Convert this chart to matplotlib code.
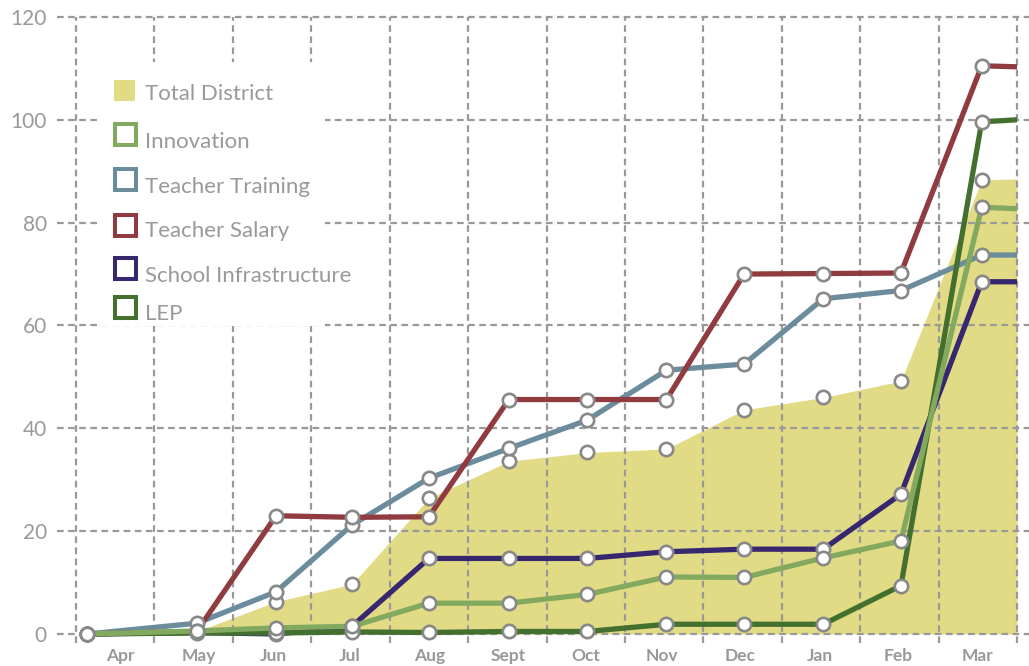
import matplotlib.pyplot as plt
from matplotlib.patches import Rectangle

# ==========================
# Data
# ==========================
months = ["Apr", "May", "Jun", "Jul", "Aug", "Sept", "Oct", "Nov", "Dec", "Jan", "Feb", "Mar"]
month_ticks = [0.56, 1.56, 2.52, 3.49, 4.51, 5.51, 6.5, 7.47, 8.47, 9.49, 10.48, 11.5]
point_x = [0.14, 1.54, 2.55, 3.52, 4.5, 5.52, 6.52, 7.53, 8.52, 9.53, 10.52, 11.55]
end_x = 12

total_district = [0, 0.5, 6.3, 9.7, 26.4, 33.6, 35.3, 36.0, 43.6, 46.0, 49.2, 88.3]
total_district_end = 88.5
innovation = [0, 0.6, 1.2, 1.5, 6.0, 6.0, 7.7, 11.1, 11.0, 14.8, 18.1, 83.0]
innovation_end = 82.7
teacher_training = [0, 2.1, 8.2, 21.2, 30.3, 36.1, 41.6, 51.3, 52.5, 65.2, 66.8, 73.7]
teacher_training_end = 73.7
teacher_salary = [0, 0.5, 23.0, 22.7, 22.8, 45.6, 45.6, 45.6, 70.0, 70.1, 70.2, 110.5]
teacher_salary_end = 110.3
school_infra = [0, 0.3, 0, 1.5, 14.7, 14.7, 14.7, 16.0, 16.5, 16.5, 27.2, 68.5]
school_infra_end = 68.5
lep = [0, 0.2, 0.2, 0.4, 0.3, 0.5, 0.5, 1.9, 1.9, 1.9, 9.4, 99.6]
lep_end = 100.0

y_ticks = [0, 20, 40, 60, 80, 100, 120]

# ==========================
# Style
# ==========================
plt.rcParams['font.family'] = ['Lato', 'DejaVu Sans']
GREY = "#999999"
YELLOW = "#E2DB86"
series = [
    ("Teacher Training", teacher_training, teacher_training_end, "#6B8C9C"),
    ("Teacher Salary", teacher_salary, teacher_salary_end, "#8F3B3F"),
    ("School Infrastructure", school_infra, school_infra_end, "#37276F"),
    ("LEP", lep, lep_end, "#44702F"),
    ("Innovation", innovation, innovation_end, "#83A95F"),
]

fig = plt.figure(figsize=(10.29, 6.66), dpi=100)
ax = fig.add_axes([52.47 / 1029, 0.0287, 976.3 / 1029, 0.9536])
ax.set_xlim(-0.3, 12.15)
ax.set_ylim(-2.5, 121)
for s in ax.spines.values():
    s.set_visible(False)

# grid
dash = (0, (3.0, 2.0))
ax.hlines(y_ticks, -0.24, 12.15, colors=GREY, linewidth=1.6, linestyles=dash, zorder=2)
ax.vlines(range(13), -1.75, 120, colors=GREY, linewidth=1.6, linestyles=dash, zorder=2)

# area
ax.fill_between(point_x + [end_x], total_district + [total_district_end], 0,
                color=YELLOW, linewidth=0, zorder=1)

# lines
for i, (name, vals, end, col) in enumerate(series):
    ax.plot(point_x + [end_x], vals + [end], color=col, linewidth=3.8,
            solid_capstyle='butt', zorder=3 + i)

# markers
mk = dict(marker='o', markersize=9.6, markerfacecolor='white',
          markeredgecolor='#888888', markeredgewidth=1.9, linestyle='none', zorder=10)
ax.plot(point_x, total_district, **mk)
for name, vals, end, col in series:
    ax.plot(point_x, vals, **mk)

ax.set_yticks(y_ticks)
ax.set_yticklabels([str(v) for v in y_ticks], fontsize=15, color=GREY)
ax.set_xticks([])
ax.tick_params(length=0)
ax.tick_params(axis='y', pad=4)

# month labels, baseline just above the bottom edge
for xm, lab in zip(month_ticks, months):
    ax.text(xm, -5.3, lab, fontsize=12.5, fontweight='bold', color=GREY,
            ha='center', va='baseline')

# ==========================
# Legend (pixel coordinates)
# ==========================
lg = fig.add_axes([0, 0, 1, 1], zorder=5)
lg.set_xlim(0, 1029)
lg.set_ylim(666, 0)
lg.axis('off')
lg.add_patch(Rectangle((100, 62), 225, 264, facecolor='white', edgecolor='none'))

lg.add_patch(Rectangle((114, 80), 21, 21, facecolor=YELLOW, edgecolor='none'))
lg.text(145, 100, "Total District", fontsize=16, color=GREY, va='baseline')

legend_rows = [
    ("Innovation", "#83A95F", 134.5, 148.3),
    ("Teacher Training", "#6B8C9C", 179.5, 193.3),
    ("Teacher Salary", "#8F3B3F", 225.5, 237.3),
    ("School Infrastructure", "#37276F", 268.5, 282),
    ("LEP", "#44702F", 307.5, 320),
]
for name, col, yc, yb in legend_rows:
    lg.add_patch(Rectangle((114.5, yc - 10.5), 21, 21, facecolor='white',
                           edgecolor=col, linewidth=2.9))
    lg.text(145, yb, name, fontsize=16, color=GREY, va='baseline')

fig.savefig("out.png", dpi=100)
